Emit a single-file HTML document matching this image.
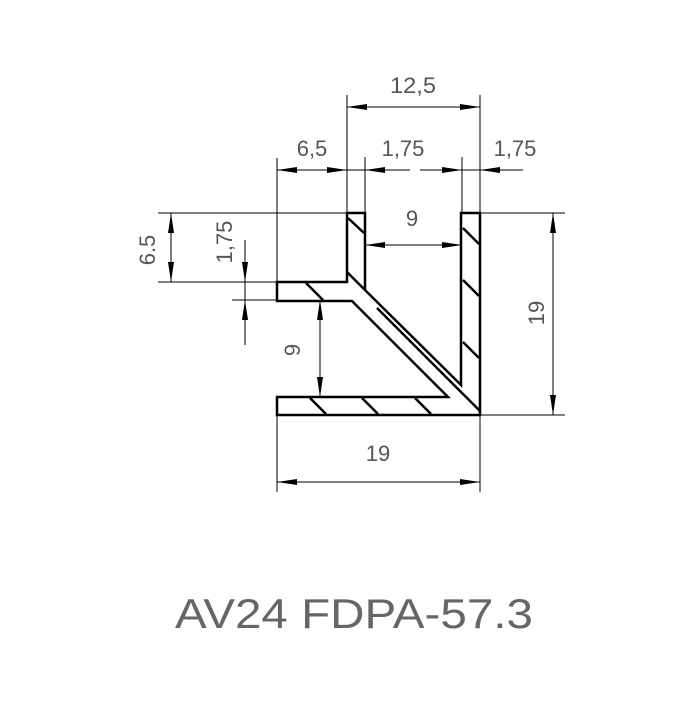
<!DOCTYPE html>
<html><head><style>html,body{margin:0;padding:0;background:#fff}</style></head><body>
<svg width="700" height="700" xmlns="http://www.w3.org/2000/svg">
<defs>
<marker id="a" viewBox="0 0 20 6" refX="20" refY="3" markerWidth="20" markerHeight="6" markerUnits="userSpaceOnUse" orient="auto-start-reverse"><path d="M0,0L20,3L0,6z" fill="#000"/></marker>
</defs>
<g stroke="#000" stroke-width="1" fill="none">
<line x1="277" y1="158" x2="277" y2="290"/>
<line x1="347" y1="95" x2="347" y2="213"/>
<line x1="365" y1="157" x2="365" y2="213"/>
<line x1="462" y1="157" x2="462" y2="213"/>
<line x1="480" y1="95" x2="480" y2="213"/>
<line x1="158" y1="213" x2="347" y2="213"/>
<line x1="158" y1="282" x2="277" y2="282"/>
<line x1="232" y1="300" x2="277" y2="300"/>
<line x1="480" y1="213" x2="565" y2="213"/>
<line x1="480" y1="415" x2="565" y2="415"/>
<line x1="277" y1="415" x2="277" y2="492"/>
<line x1="480" y1="415" x2="480" y2="492"/>
<line x1="347" y1="107" x2="480" y2="107" marker-start="url(#a)" marker-end="url(#a)"/>
<line x1="277" y1="170" x2="347" y2="170" marker-start="url(#a)" marker-end="url(#a)"/>
<line x1="347" y1="170" x2="365" y2="170"/>
<line x1="365" y1="170" x2="410" y2="170" marker-start="url(#a)"/>
<line x1="420" y1="170" x2="462" y2="170" marker-end="url(#a)"/>
<line x1="462" y1="170" x2="480" y2="170"/>
<line x1="523" y1="170" x2="480" y2="170" marker-end="url(#a)"/>
<line x1="171" y1="213" x2="171" y2="282" marker-start="url(#a)" marker-end="url(#a)"/>
<line x1="245" y1="240" x2="245" y2="282" marker-end="url(#a)"/>
<line x1="245" y1="282" x2="245" y2="300"/>
<line x1="245" y1="345" x2="245" y2="300" marker-end="url(#a)"/>
<line x1="365" y1="245" x2="462" y2="245" marker-start="url(#a)" marker-end="url(#a)"/>
<line x1="320" y1="300" x2="320" y2="397" marker-start="url(#a)" marker-end="url(#a)"/>
<line x1="553" y1="213" x2="553" y2="415" marker-start="url(#a)" marker-end="url(#a)"/>
<line x1="277" y1="482" x2="480" y2="482" marker-start="url(#a)" marker-end="url(#a)"/>
</g>
<g stroke="#000" stroke-width="2.5" fill="none" stroke-linejoin="miter">
<path d="M347,213 H365 V290 L461,385 V213 H480 V415 H277 V397 H448 L352,301 H277 V282 H347 Z"/>
<line x1="347" y1="272" x2="365" y2="290"/>
<line x1="377" y1="308" x2="480" y2="411"/>
<line x1="348" y1="218" x2="364" y2="233"/>
<line x1="306" y1="283" x2="323" y2="300"/>
<line x1="463" y1="228" x2="479" y2="244"/>
<line x1="463" y1="280" x2="479" y2="296"/>
<line x1="463" y1="342" x2="479" y2="358"/>
<line x1="310" y1="398" x2="326" y2="414"/>
<line x1="362" y1="398" x2="378" y2="414"/>
<line x1="415" y1="398" x2="431" y2="414"/>
</g>
<g font-family="Liberation Sans, sans-serif" font-size="22" fill="#555">
<text x="413" y="93" text-anchor="middle" textLength="46" lengthAdjust="spacingAndGlyphs">12,5</text>
<text x="312" y="156" text-anchor="middle">6,5</text>
<text x="403" y="156" text-anchor="middle">1,75</text>
<text x="515" y="156" text-anchor="middle">1,75</text>
<text x="412" y="226" text-anchor="middle">9</text>
<text x="378" y="461" text-anchor="middle">19</text>
<text transform="translate(155,250) rotate(-90)" text-anchor="middle">6.5</text>
<text transform="translate(232,242) rotate(-90)" text-anchor="middle">1,75</text>
<text transform="translate(300,350) rotate(-90)" text-anchor="middle">9</text>
<text transform="translate(544,313) rotate(-90)" text-anchor="middle">19</text>
<text x="354" y="628" text-anchor="middle" font-size="42" fill="#666" textLength="358" lengthAdjust="spacingAndGlyphs">AV24 FDPA-57.3</text>
</g>
</svg>
</body></html>
